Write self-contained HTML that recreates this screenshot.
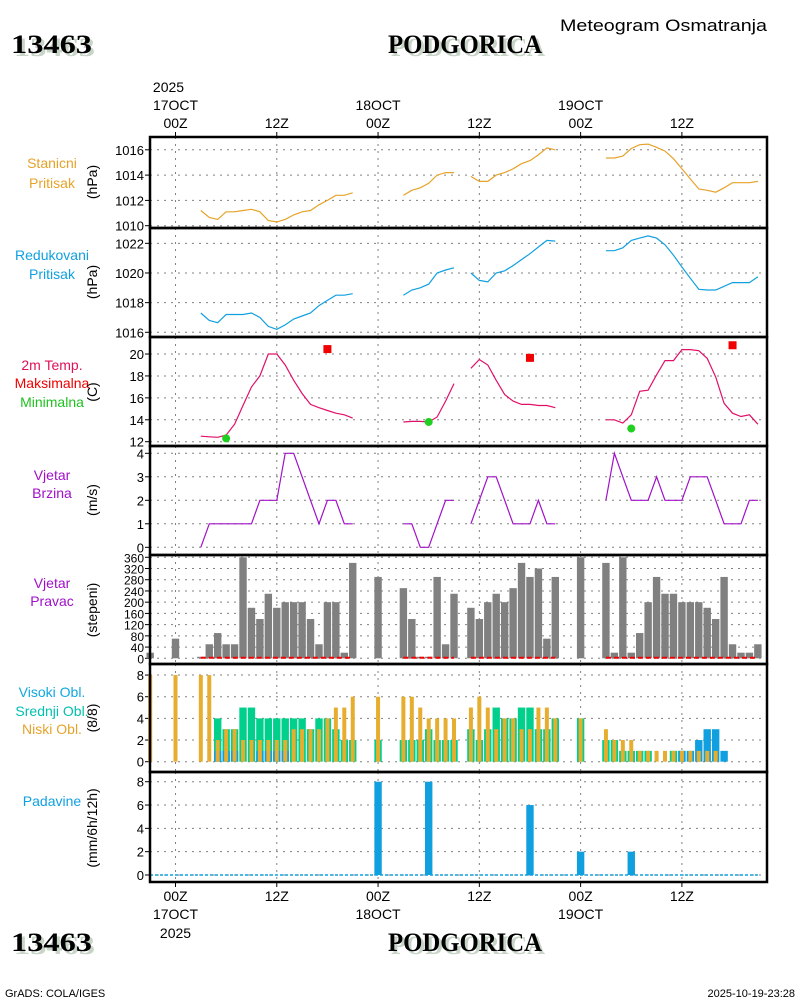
<!DOCTYPE html>
<html><head><meta charset="utf-8"><style>
body{margin:0;background:#fff}
svg{display:block;font-family:"Liberation Sans",sans-serif}
</style></head><body>
<svg id="chart" width="800" height="1000" viewBox="0 0 800 1000" xmlns="http://www.w3.org/2000/svg">
<g id="hdr">
<text x="14" y="56" font-family="Liberation Serif,serif" font-weight="bold" font-size="26" textLength="81" lengthAdjust="spacingAndGlyphs" fill="#c8d4c8">13463</text>
<text x="11" y="53" font-family="Liberation Serif,serif" font-weight="bold" font-size="26" textLength="81" lengthAdjust="spacingAndGlyphs" fill="#000">13463</text>
<text x="391" y="56" font-family="Liberation Serif,serif" font-weight="bold" font-size="26" textLength="154" lengthAdjust="spacingAndGlyphs" fill="#c8d4c8">PODGORICA</text>
<text x="388" y="53" font-family="Liberation Serif,serif" font-weight="bold" font-size="26" textLength="154" lengthAdjust="spacingAndGlyphs" fill="#000">PODGORICA</text>
<text x="560" y="31" font-size="17" textLength="207" lengthAdjust="spacingAndGlyphs" fill="#000">Meteogram Osmatranja</text>
<text x="14" y="954" font-family="Liberation Serif,serif" font-weight="bold" font-size="26" textLength="81" lengthAdjust="spacingAndGlyphs" fill="#c8d4c8">13463</text>
<text x="11" y="951" font-family="Liberation Serif,serif" font-weight="bold" font-size="26" textLength="81" lengthAdjust="spacingAndGlyphs" fill="#000">13463</text>
<text x="391" y="954" font-family="Liberation Serif,serif" font-weight="bold" font-size="26" textLength="154" lengthAdjust="spacingAndGlyphs" fill="#c8d4c8">PODGORICA</text>
<text x="388" y="951" font-family="Liberation Serif,serif" font-weight="bold" font-size="26" textLength="154" lengthAdjust="spacingAndGlyphs" fill="#000">PODGORICA</text>
<text x="5" y="997" font-size="11" fill="#000">GrADS: COLA/IGES</text>
<text x="795" y="997" text-anchor="end" font-size="11" fill="#000">2025-10-19-23:28</text>
</g>
</svg>
<script>
// hourly data, index i -> hour i-3 (00Z 17OCT = hour 0)
const N = 73;
const stnP = [null,null,null,null,null,null,1011.2,1010.65,1010.5,1011.1,1011.1,1011.2,1011.3,1011.1,1010.4,1010.3,1010.5,1010.85,1011.1,1011.2,1011.65,1012.0,1012.4,1012.4,1012.6,null,null,null,null,null,1012.4,1012.8,1013.0,1013.35,1014.0,1014.2,1014.2,null,1013.9,1013.5,1013.5,1014.0,1014.2,1014.5,1014.9,1015.15,1015.6,1016.15,1016.0,null,null,null,null,null,1015.35,1015.35,1015.5,1016.1,1016.4,1016.45,1016.2,1015.9,1015.3,1014.5,1013.7,1012.9,1012.8,1012.65,1013.0,1013.4,1013.4,1013.4,1013.5];
const redP = [null,null,null,null,null,null,1017.3,1016.8,1016.65,1017.2,1017.2,1017.2,1017.3,1017.0,1016.4,1016.2,1016.5,1016.9,1017.1,1017.3,1017.8,1018.15,1018.5,1018.5,1018.6,null,null,null,null,null,1018.5,1018.85,1019.0,1019.25,1020.0,1020.2,1020.35,null,1020.0,1019.5,1019.4,1020.0,1020.15,1020.5,1020.9,1021.3,1021.75,1022.2,1022.15,null,null,null,null,null,1021.5,1021.5,1021.7,1022.2,1022.35,1022.5,1022.35,1021.9,1021.2,1020.4,1019.65,1018.9,1018.85,1018.85,1019.1,1019.35,1019.35,1019.35,1019.75];
const temp = [null,null,null,null,null,null,12.5,12.45,12.4,12.6,13.6,15.3,17.0,18.0,20.0,20.0,19.0,17.6,16.4,15.4,15.1,14.85,14.6,14.45,14.15,null,null,null,null,null,13.8,13.85,13.85,13.8,14.25,15.7,17.3,null,18.7,19.5,19.0,17.6,16.3,15.7,15.4,15.4,15.3,15.3,15.1,null,null,null,null,null,14.0,14.0,13.7,14.45,16.6,16.7,18.1,19.4,19.4,20.4,20.4,20.3,19.6,17.9,15.5,14.6,14.3,14.45,13.6];
const tmaxHours = [18,42,66];
const tmaxVals = [20.45,19.65,20.8];
const tminHours = [6,30,54];
const tminVals = [12.3,13.8,13.2];
const wspd = [null,null,null,null,null,null,0,1,1,1,1,1,1,2,2,2,4,4,3,2,1,2,2,1,1,null,null,null,null,null,1,1,0,0,1,2,2,null,1,2,3,3,2,1,1,1,2,1,1,null,null,null,null,null,2,4,3,2,2,2,3,2,2,2,3,3,3,2,1,1,1,2,2];
const wdir = [20,null,null,70,null,null,0,50,90,50,50,360,180,140,230,180,200,200,200,140,50,200,200,20,340,null,null,290,null,null,250,140,0,0,290,50,230,null,180,140,200,230,200,250,340,290,320,70,290,null,null,360,null,null,340,20,360,20,90,200,290,230,230,200,200,200,180,140,290,50,20,20,50];
const cLow = [8,null,null,8,null,null,8,8,2,3,3,2,2,2,2,2,2,3,3,3,3,4,5,5,6,null,null,6,null,null,6,6,5,4,4,4,4,null,5,6,5,3,4,4,3,3,5,5,4,null,null,4,null,null,3,2,2,2,1,1,1,1,1,1,1,1,1,1,0,0,0,0,0];
const cMid = [0,null,null,0,null,null,0,0,4,3,3,5,5,4,4,4,4,4,4,3,4,4,3,2,2,null,null,2,null,null,2,2,2,3,2,2,2,null,3,2,3,5,4,4,5,5,3,3,4,null,null,4,null,null,2,2,1,1,1,1,0,0,1,1,0,0,0,0,0,0,0,0,0];
const cHigh = [0,null,null,0,null,null,0,0,1,1,1,0,0,1,1,1,1,0,0,0,0,0,0,0,0,null,null,0,null,null,0,0,0,0,0,0,0,null,0,0,0,0,0,0,0,0,0,0,0,null,null,0,null,null,0,0,0,0,0,0,0,0,0,1,1,2,3,3,1,0,0,0,0];
const precHours = [0,6,12,18,24,30,36,42,48,54,60,66];
const precVals = [0,0,0,0,8,8,0,6,2,2,0,0];
const tickHours = [0,12,24,36,48,60];
const tickTop = ["00Z","12Z","00Z","12Z","00Z","12Z"];
const dayLabels = ["17OCT","","18OCT","","19OCT",""];

const svg = document.getElementById('chart');
const NS = "http://www.w3.org/2000/svg";
function mk(tag, attrs, parent){const e=document.createElementNS(NS,tag);for(const k in attrs)e.setAttribute(k,attrs[k]);(parent||svg).appendChild(e);return e;}
const L=150,R=767;
const X = h => 175.5 + h*8.44;
const panels = [
 {top:137,bot:228,v0:1010,y0:225.7,k:12.65,ticks:[1010,1012,1014,1016],name:'station-pressure'},
 {top:228,bot:337,v0:1016,y0:332.3,k:14.83,ticks:[1016,1018,1020,1022],name:'reduced-pressure'},
 {top:337,bot:446,v0:12,y0:441.7,k:10.96,ticks:[12,14,16,18,20],name:'temperature'},
 {top:446,bot:555,v0:0,y0:547.3,k:23.5,ticks:[0,1,2,3,4],name:'wind-speed'},
 {top:555,bot:664,v0:0,y0:658.3,k:0.2806,ticks:[0,40,80,120,160,200,240,280,320,360],name:'wind-direction'},
 {top:664,bot:772,v0:0,y0:761.7,k:10.83,ticks:[0,2,4,6,8],name:'cloud-cover'},
 {top:772,bot:882,v0:0,y0:875,k:11.66,ticks:[0,2,4,6,8],name:'precipitation'}
];
panels.forEach(p=>{p.Y=v=>p.y0-(v-p.v0)*p.k;});

panels.forEach((p,pi)=>{
 const g=mk('g',{});
 
 
 p.g=g;
 const fs = pi===4?12:13;
 p.ticks.forEach(t=>{
  const y=p.Y(t);
  const gl=mk('line',{x1:L,x2:R,y1:y,y2:y,stroke:'#808080','stroke-dasharray':'2,5','stroke-width':1},g);
  
  
  mk('line',{x1:145,x2:L,y1:y,y2:y,stroke:'#000','stroke-width':1},g);
  const tl=mk('text',{x:144,y:y+5,'text-anchor':'end','font-size':fs,fill:'#000'},g);
  tl.textContent=t;
  
  
 });
 tickHours.forEach(h=>{
  const vl=mk('line',{x1:X(h),x2:X(h),y1:p.top,y2:p.bot,stroke:'#808080','stroke-dasharray':'2,5','stroke-width':1},g);
  
  
 });
});

function line(p, vals, color, name){
 let d='';let pen=false;
 vals.forEach((v,i)=>{ if(v===null){pen=false;return;} d+=(pen?'L':'M')+X(i-3).toFixed(1)+','+p.Y(v).toFixed(1); pen=true;});
 const e=mk('path',{d:d,fill:'none',stroke:color,'stroke-width':1.2},p.g);
 
 
}
line(panels[0], stnP, '#e6a32a', 'station-pressure-line');
line(panels[1], redP, '#10a0e0', 'reduced-pressure-line');
line(panels[2], temp, '#e0106a', 'temperature-line');
line(panels[3], wspd, '#a010c8', 'wind-speed-line');
tmaxHours.forEach((h,i)=>{
 const y=panels[2].Y(tmaxVals[i]);
 const e=mk('rect',{x:X(h)-4,y:y-4,width:8,height:8,fill:'#f00000'},panels[2].g);
 
 
});
tminHours.forEach((h,i)=>{
 const e=mk('circle',{cx:X(h),cy:panels[2].Y(tminVals[i]),r:4,fill:'#20d020'},panels[2].g);
 
 
});
const pd=panels[4];
wdir.forEach((v,i)=>{
 if(v===null)return;
 const y=pd.Y(v);const h=Math.max(pd.y0-y,1.5);
 const e=mk('rect',{x:X(i-3)-3.7,y:pd.y0-h,width:7.4,height:h,fill:'#808080'},pd.g);
 
 
});
{let start=null;
 for(let i=0;i<=N;i++){
  const ok=i<N&&wspd[i]!==null;
  if(ok&&start===null)start=i;
  if(!ok&&start!==null){
   const e=mk('line',{x1:X(start-3),x2:X(i-1-3),y1:pd.y0-0.5,y2:pd.y0-0.5,stroke:'#f00000','stroke-width':2,'stroke-dasharray':'5,3'},pd.g);
   
   
   start=null;}
 }}
const pc=panels[5];
function cbar(vals,w,color,name){
 vals.forEach((v,i)=>{
  if(v===null||v===0)return;
  const y=pc.Y(v);
  const e=mk('rect',{x:X(i-3)-w/2,y:y,width:w,height:pc.y0-y,fill:color},pc.g);
  
  
 });
}
cbar(cMid,7.4,'#00d08c','mid-cloud-bar');
cbar(cHigh,7.4,'#10a0e0','high-cloud-bar');
cbar(cLow,4,'#e6ad2e','low-cloud-bar');
const pp=panels[6];
{const e=mk('line',{x1:L,x2:758,y1:pp.y0,y2:pp.y0,stroke:'#10a0e0','stroke-width':1.5,'stroke-dasharray':'3,2'},pp.g);
 
 }
precHours.forEach((h,i)=>{
 const v=precVals[i]; if(!v)return;
 const y=pp.Y(v);
 const e=mk('rect',{x:X(h)-3.7,y:y,width:7.4,height:pp.y0-y,fill:'#10a0e0'},pp.g);
 
 
});
panels.forEach(p=>{
 const e=mk('rect',{x:L,y:p.top,width:R-L,height:p.bot-p.top,fill:'none',stroke:'#000','stroke-width':2.5});
 
 
});
tickHours.forEach((h,i)=>{
 const x=X(h);
 mk('line',{x1:x,x2:x,y1:132,y2:137,stroke:'#000'});
 mk('line',{x1:x,x2:x,y1:882,y2:887,stroke:'#000'});
 const t=mk('text',{x:x,y:128,'text-anchor':'middle','font-size':14});t.textContent=tickTop[i];
 
 
 const b=mk('text',{x:x,y:901,'text-anchor':'middle','font-size':14});b.textContent=tickTop[i];
 
 
 if(dayLabels[i]){
  const d=mk('text',{x:x,y:110,'text-anchor':'middle','font-size':14});d.textContent=dayLabels[i];
  
  
  const d2=mk('text',{x:x,y:919,'text-anchor':'middle','font-size':14});d2.textContent=dayLabels[i];
  
  
 }
});
{const y1=mk('text',{x:X(0)-7,y:92,'text-anchor':'middle','font-size':14});y1.textContent='2025';
 
 
 const y2=mk('text',{x:X(0),y:938,'text-anchor':'middle','font-size':14});y2.textContent='2025';
 
 }
const leftLabels=[
 ['Stanicni',168,'#e6a32a'],['Pritisak',188,'#e6a32a'],
 ['Redukovani',260,'#10a0e0'],['Pritisak',279,'#10a0e0'],
 ['2m Temp.',370,'#e0105a'],['Maksimalna',388,'#f00000'],['Minimalna',407,'#20c020'],
 ['Vjetar',480,'#a010c8'],['Brzina',498,'#a010c8'],
 ['Vjetar',588,'#a010c8'],['Pravac',606,'#a010c8'],
 ['Visoki Obl.',697,'#10a8e0'],['Srednji Obl.',716,'#00c0b0'],['Niski Obl.',734,'#e6a32a'],
 ['Padavine',806,'#10a0e0']];
leftLabels.forEach(l=>{
 const t=mk('text',{x:52,y:l[1],'text-anchor':'middle','font-size':14,fill:l[2]});t.textContent=l[0];
 
 
});
const units=[['(hPa)',182],['(hPa)',282],['(C)',392],['(m/s)',500],['(stepeni)',610],['(8/8)',718],['(mm/6h/12h)',828]];
units.forEach(u=>{
 const t=mk('text',{x:0,y:0,'text-anchor':'middle','font-size':14,transform:'translate(97,'+u[1]+') rotate(-90)'});t.textContent=u[0];
 
 
});
</script>
</body></html>
